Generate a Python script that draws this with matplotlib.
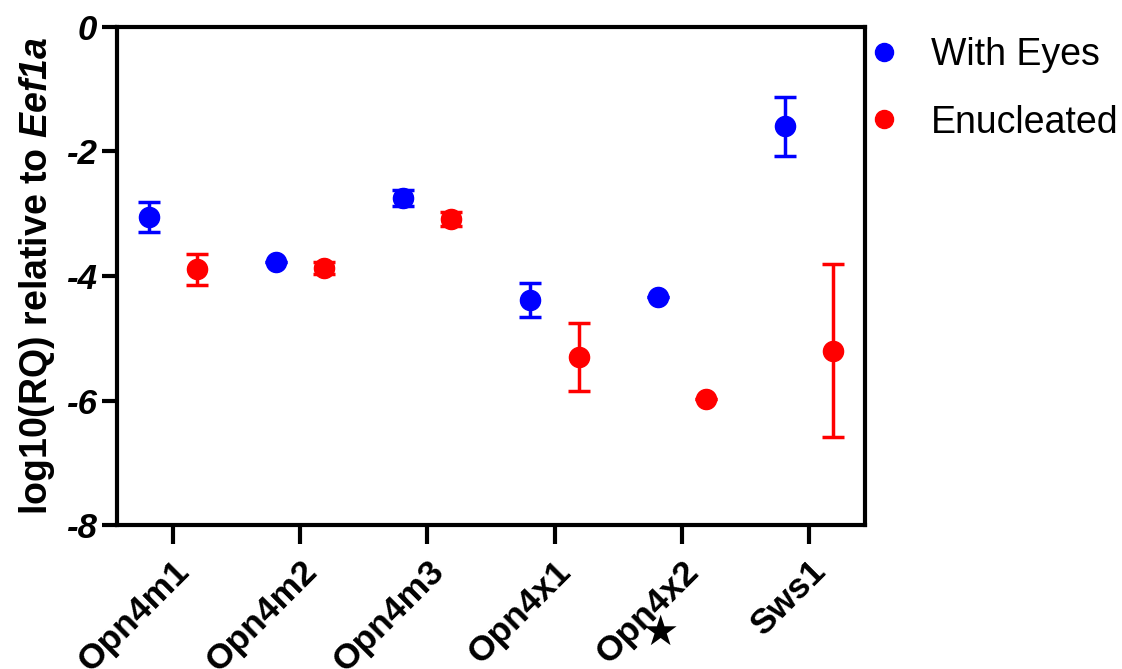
import numpy as np
import matplotlib.pyplot as plt
from matplotlib.lines import Line2D

genes = ['Opn4m1', 'Opn4m2', 'Opn4m3', 'Opn4x1', 'Opn4x2', 'Sws1']

eyes_mean = [-3.05, -3.77, -2.75, -4.39, -4.33, -1.60]
eyes_err = [0.24, 0.0, 0.13, 0.27, 0.0, 0.47]

enuc_mean = [-3.89, -3.87, -3.09, -5.30, -5.98, -5.20]
enuc_err = [0.25, 0.10, 0.11, 0.55, 0.0, 1.39]

plt.rcParams['font.family'] = ['Liberation Sans', 'DejaVu Sans']
plt.rcParams['mathtext.fontset'] = 'custom'
plt.rcParams['mathtext.bfit'] = 'Liberation Sans:italic:bold'
plt.rcParams['mathtext.rm'] = 'Liberation Sans:bold'

fig = plt.figure(figsize=(11.22, 6.69), dpi=100)
ax = fig.add_axes([0.104, 0.215, 0.667, 0.745])

x = np.arange(len(genes))
off = 0.19

ax.errorbar(x - off, eyes_mean, yerr=eyes_err, fmt='o', color='#0000ff',
            markersize=14.5, elinewidth=2.5, capsize=8, capthick=2.5)
ax.errorbar(x + off, enuc_mean, yerr=enuc_err, fmt='o', color='#ff0000',
            markersize=14.5, elinewidth=2.5, capsize=8, capthick=2.5)

ax.set_xlim(-0.44, 5.44)
ax.set_ylim(-8, 0)
ax.set_yticks([0, -2, -4, -6, -8])
ax.set_yticklabels(['0', '-2', '-4', '-6', '-8'], fontsize=25,
                   fontweight='bold', fontstyle='italic')
ax.set_xticks(x)
ax.set_xticklabels(genes, fontsize=25.5, fontweight='bold', rotation=45,
                   ha='right', rotation_mode='anchor')

# star marking Opn4x2
ax.text(3.83, -0.215, '\u2605', transform=ax.get_xaxis_transform(),
        family='DejaVu Sans', fontsize=30, ha='center', va='center')

for s in ax.spines.values():
    s.set_linewidth(3)
ax.tick_params(axis='y', length=11, width=3, pad=3)
ax.tick_params(axis='x', length=14, width=3, pad=7)

ax.set_ylabel(r'log10(RQ) relative to $\mathbfit{Eef1a}$', fontsize=27,
              fontweight='bold', labelpad=7)

handles = [Line2D([], [], ls='none', marker='o', color='#0000ff', markersize=13),
           Line2D([], [], ls='none', marker='o', color='#ff0000', markersize=13)]
ax.legend(handles, ['With Eyes', 'Enucleated'], loc='upper left',
          bbox_to_anchor=(1.0, 0.98), frameon=False, fontsize=27,
          borderpad=0, borderaxespad=0, handletextpad=0.75,
          labelspacing=0.85, handlelength=1.0)

fig.savefig('out.png', dpi=100)
